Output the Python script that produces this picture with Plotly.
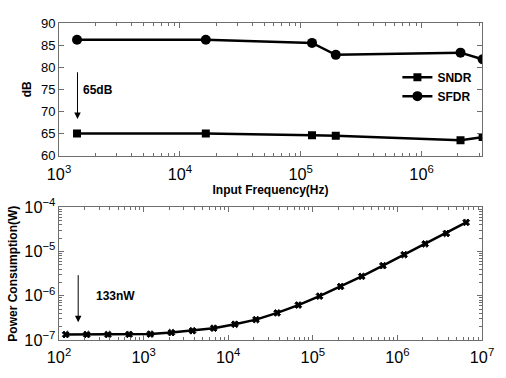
import plotly.graph_objects as go
from plotly.subplots import make_subplots

# Top panel data
freq_in = [1.41e3, 1.64e4, 1.24e5, 1.95e5, 2.1e6, 3.2e6]
sndr = [65.0, 65.0, 64.6, 64.5, 63.5, 64.2]
sfdr = [86.2, 86.2, 85.5, 82.8, 83.3, 81.8]

# Bottom panel data
freq_p = [120, 213, 379, 674, 1200, 2130, 3790, 6740, 12000, 21300, 37900, 67400,
          120000, 213000, 379000, 674000, 1.2e6, 2.13e6, 3.79e6, 6.5e6]
power = [1.33e-7, 1.33e-7, 1.33e-7, 1.34e-7, 1.36e-7, 1.47e-7, 1.62e-7, 1.85e-7,
         2.27e-7, 2.89e-7, 4.1e-7, 6.17e-7, 9.8e-7, 1.62e-6, 2.75e-6, 4.8e-6,
         8.5e-6, 1.49e-5, 2.57e-5, 4.57e-5]

FONT = "Liberation Sans, Arial, Helvetica, sans-serif"
AX = "#6e6e6e"

fig = make_subplots(rows=2, cols=1, vertical_spacing=0.163)

fig.add_trace(go.Scatter(x=freq_in, y=sndr, name="SNDR", mode="lines+markers",
                         line=dict(color="black", width=2.5),
                         marker=dict(symbol="square", size=8, color="black")), row=1, col=1)
fig.add_trace(go.Scatter(x=freq_in, y=sfdr, name="SFDR", mode="lines+markers",
                         line=dict(color="black", width=2.5),
                         marker=dict(symbol="circle", size=10, color="black")), row=1, col=1)
fig.add_trace(go.Scatter(x=freq_p, y=power, name="Power", mode="lines+markers",
                         showlegend=False, line=dict(color="black", width=2.5),
                         marker=dict(symbol="x", size=6, color="black",
                                     line=dict(width=1, color="black"))), row=2, col=1)

common = dict(showline=True, linecolor=AX, linewidth=1, mirror="ticks",
              ticks="inside", tickcolor=AX, ticklen=5, showgrid=False, zeroline=False,
              tickfont=dict(family=FONT, size=13, color="black"))

fig.update_xaxes(type="log", range=[3, 6.5], dtick=1, exponentformat="power",
                 ticklabelstandoff=4,
                 minor=dict(ticks="inside", ticklen=3, tickcolor=AX, showgrid=False),
                 title=dict(text="<b>Input Frequency(Hz)</b>", standoff=0,
                            font=dict(family=FONT, size=12, color="black")),
                 row=1, col=1, **common)
fig.update_yaxes(range=[60, 90], dtick=5,
                 title=dict(text="<b>dB</b>", standoff=6,
                            font=dict(family=FONT, size=12, color="black")),
                 row=1, col=1, **common)
fig.update_xaxes(type="log", range=[2, 7], dtick=1, exponentformat="power",
                 ticklabelstandoff=3,
                 minor=dict(ticks="inside", ticklen=3, tickcolor=AX, showgrid=False),
                 row=2, col=1, **common)
fig.update_yaxes(type="log", range=[-7, -4], dtick=1, exponentformat="power",
                 minor=dict(ticks="inside", ticklen=3, tickcolor=AX, showgrid=False),
                 title=dict(text="<b>Power Consumption(W)</b>", standoff=4,
                            font=dict(family=FONT, size=12, color="black")),
                 row=2, col=1, **common)

fig.add_annotation(x=3.153, y=68.3, ax=3.153, ay=79.2, xref="x", yref="y",
                   axref="x", ayref="y", text="", showarrow=True, arrowhead=2,
                   arrowsize=1.3, arrowwidth=1, arrowcolor="black")
fig.add_annotation(x=3.18, y=74.8, xref="x", yref="y", text="<b>65dB</b>",
                   showarrow=False, xanchor="left",
                   font=dict(family=FONT, size=12, color="black"))
fig.add_annotation(x=2.227, y=-6.6, ax=2.227, ay=-5.5, xref="x2", yref="y2",
                   axref="x2", ayref="y2", text="", showarrow=True, arrowhead=2,
                   arrowsize=1.3, arrowwidth=1, arrowcolor="black")
fig.add_annotation(x=2.41, y=-6.015, xref="x2", yref="y2", text="<b>133nW</b>",
                   showarrow=False, xanchor="left",
                   font=dict(family=FONT, size=12, color="black"))

fig.update_layout(width=506, height=378, margin=dict(l=56, r=15, t=14, b=21),
                  plot_bgcolor="white", paper_bgcolor="white",
                  font=dict(family=FONT, size=12, color="black"),
                  legend=dict(x=0.8, y=0.875, xanchor="left", yanchor="top",
                              bgcolor="rgba(0,0,0,0)", tracegroupgap=0,
                              font=dict(family=FONT, size=12, color="black"),
                              itemwidth=30))
fig.update_layout(legend_font_weight="bold")

fig.write_html("out.html")
